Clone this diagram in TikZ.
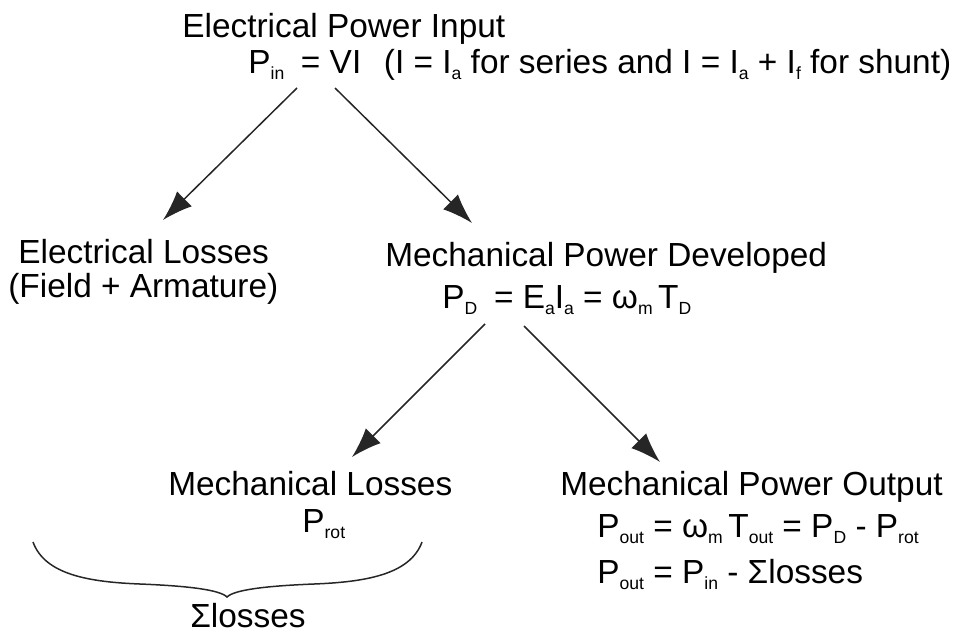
\documentclass[tikz,border=0pt]{standalone}
\usepackage{fontspec}
\setmainfont{Liberation Sans}
\usepackage{tikz}
\usetikzlibrary{arrows.meta,calc}
\newcommand{\lowsub}[1]{\raisebox{-3.5pt}{\fontsize{10}{10}\selectfont #1}}

\begin{document}
\begin{tikzpicture}[font=\fontsize{19}{22}\selectfont,
  txt/.style={anchor=base west, inner sep=0pt},
  arr/.style={-{Latex[length=0.6cm,width=0.42cm]}, line width=0.85pt, black!85}]
\useasboundingbox (0,0) rectangle (19.18,-12.64);
% top
\node[txt] (elecIn) at (3.64,-0.74) {Electrical Power Input};
\node[txt] (pinEq) at (4.96,-1.46) {P\lowsub{in}\hspace{0.5em}= VI\hspace{0.4em} (I = I\lowsub{a} for series and I = I\lowsub{a} + I\lowsub{f} for shunt)};
% second row
\node[txt] (elecLoss) at (0.36,-5.26) {Electrical Losses};
\node[txt] (fieldArm) at (0.16,-5.94) {(Field + Armature)};
\node[txt] (mechDev) at (7.70,-5.32) {Mechanical Power Developed};
\node[txt] (pdEq) at (8.84,-6.16) {P\lowsub{D}\hspace{0.5em}= E\lowsub{a}I\lowsub{a} = ω\lowsub{m}\,T\lowsub{D}};
% third row
\node[txt] (mechLoss) at (3.36,-9.90) {Mechanical Losses};
\node[txt] (protEq) at (6.04,-10.64) {P\lowsub{rot}};
\node[txt] (mechOut) at (11.20,-9.90) {Mechanical Power Output};
\node[txt] (poutA) at (11.94,-10.74) {P\lowsub{out} = ω\lowsub{m}\,T\lowsub{out} = P\lowsub{D} - P\lowsub{rot}};
\node[txt] (poutB) at (11.94,-11.66) {P\lowsub{out} = P\lowsub{in} - Σlosses};
% arrows
\draw[arr] ($(pinEq.base west)+(0.98,-0.30)$) -- ($(elecLoss.base west)+(2.90,0.86)$);
\draw[arr] ($(pinEq.base west)+(1.74,-0.30)$) -- ($(mechDev.base west)+(1.74,0.86)$);
\draw[arr] ($(pdEq.base west)+(0.86,-0.32)$) -- ($(mechLoss.base west)+(3.68,0.76)$);
\draw[arr] ($(pdEq.base west)+(1.64,-0.36)$) -- ($(mechOut.base west)+(2.00,0.66)$);
% brace
\draw[line width=0.85pt, black!85] (0.66,-10.84) .. controls (0.90,-11.50) and (1.80,-11.64) .. (2.80,-11.68)
  .. controls (3.80,-11.72) and (4.40,-11.80) .. (4.54,-11.94)
  .. controls (4.68,-11.80) and (5.28,-11.72) .. (6.28,-11.68)
  .. controls (7.28,-11.64) and (8.20,-11.50) .. (8.44,-10.84);
\node[txt] (sumLoss) at (3.80,-12.54) {Σlosses};
\end{tikzpicture}
\end{document}
